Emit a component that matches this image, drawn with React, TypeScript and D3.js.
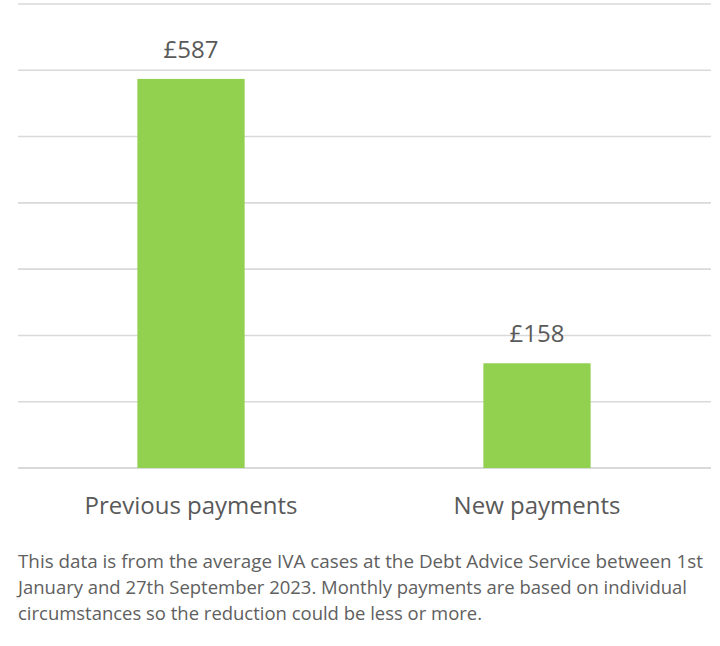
import React from "react";
import * as d3 from "d3";

const categories = ["Previous payments", "New payments"];
const values = [587, 158];
const valueLabels = ["£587", "£158"];
const gridTicks = [0, 100, 200, 300, 400, 500, 600, 700];
const footnoteLines = [
  "This data is from the average IVA cases at the Debt Advice Service between 1st",
  "January and 27th September 2023. Monthly payments are based on individual",
  "circumstances so the reduction could be less or more.",
];
const footnoteWidths = [685, 669, 464];

const W = 720;
const H = 646;

export default function App() {
  const x = d3
    .scaleBand<string>()
    .domain(categories)
    .range([18, 710])
    .paddingInner(0.69)
    .paddingOuter(0.345);
  const y = d3.scaleLinear().domain([0, 700]).range([468, 4]);
  const font = "'Open Sans', 'Noto Sans', sans-serif";
  const textColor = "#595959";

  return (
    <svg
      width={W}
      height={H}
      style={{ position: "absolute", left: 0, top: 0, background: "#fff" }}
    >
      <rect width={W} height={H} fill="#fff" />
      {gridTicks.map((t) => (
        <line
          key={t}
          x1={18}
          x2={711}
          y1={y(t)}
          y2={y(t)}
          stroke="#d9d9d9"
          strokeWidth={t === 0 ? 2 : 1.6}
        />
      ))}
      {categories.map((c, i) => (
        <g key={c}>
          <rect
            x={x(c)}
            y={y(values[i])}
            width={x.bandwidth()}
            height={y(0) - y(values[i])}
            fill="#92d050"
          />
          <text
            x={(x(c) as number) + x.bandwidth() / 2}
            y={y(values[i]) - 21}
            textAnchor="middle"
            fontFamily={font}
            fontSize={24}
            fill={textColor}
          >
            {valueLabels[i]}
          </text>
          <text
            x={(x(c) as number) + x.bandwidth() / 2}
            y={514}
            textAnchor="middle"
            fontFamily={font}
            fontSize={24}
            fill={textColor}
          >
            {c}
          </text>
        </g>
      ))}
      {footnoteLines.map((l, i) => (
        <text
          key={i}
          x={18}
          y={568 + i * 26}
          fontFamily={font}
          fontSize={17.5}
          fill="#606060"
          textLength={footnoteWidths[i]}
          lengthAdjust="spacingAndGlyphs"
        >
          {l}
        </text>
      ))}
    </svg>
  );
}
